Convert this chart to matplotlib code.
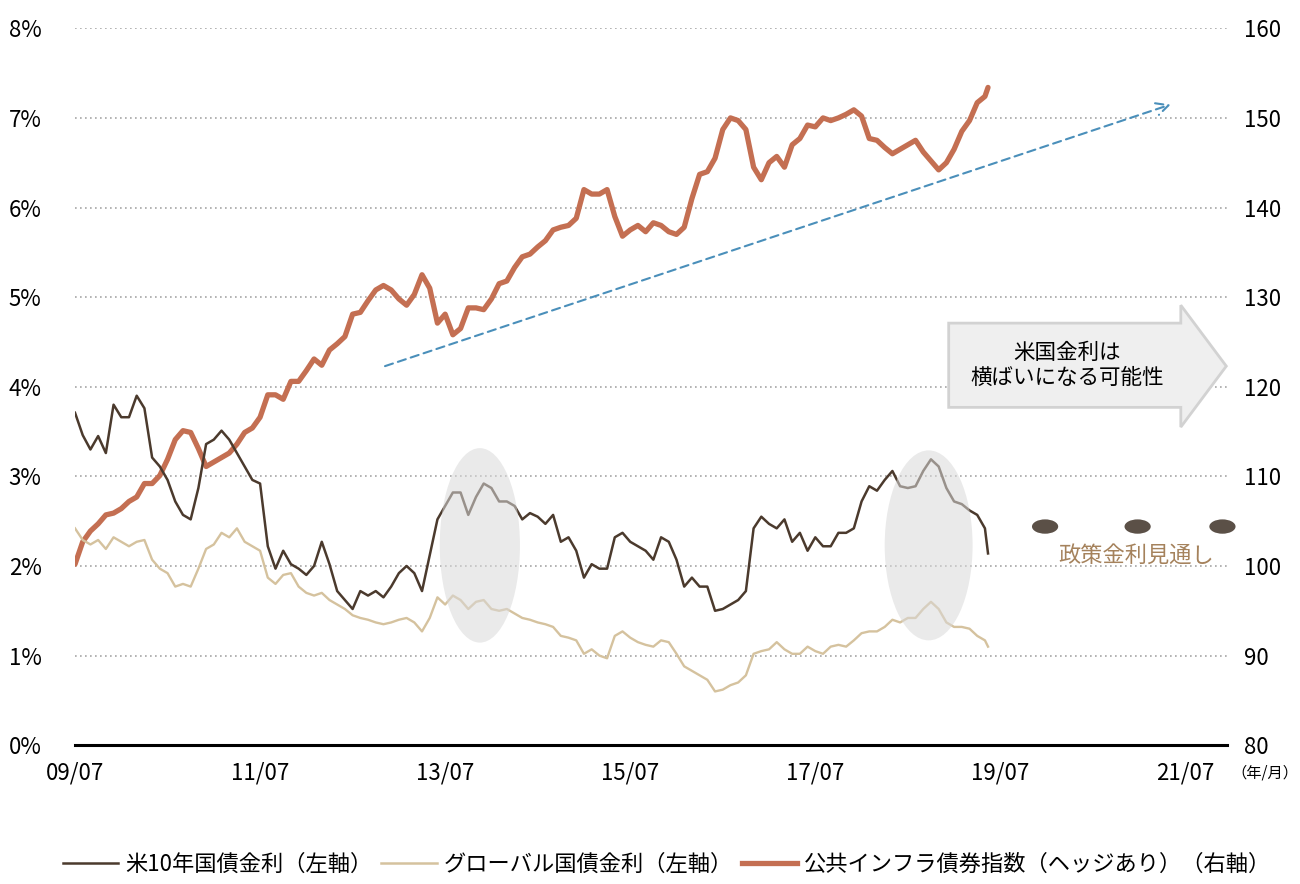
import numpy as np
import matplotlib
matplotlib.use('Agg')
from matplotlib import pyplot as plt
from matplotlib.patches import Ellipse, Polygon
from matplotlib.lines import Line2D

plt.rcParams['font.family'] = ['Noto Sans CJK JP', 'DejaVu Sans']

# months since 2009/07, monthly readings (last point is the final day shown)
months = list(range(119)) + [118.4]

us10y = [3.71, 3.46, 3.30, 3.45, 3.26, 3.80, 3.66, 3.66, 3.90, 3.76,
         3.21, 3.11, 2.96, 2.72, 2.57, 2.52, 2.87, 3.36, 3.41, 3.51,
         3.41, 3.26, 3.11, 2.96, 2.92, 2.22, 1.97, 2.17, 2.02, 1.97,
         1.90, 2.00, 2.27, 2.02, 1.72, 1.62, 1.52, 1.72, 1.67, 1.72,
         1.65, 1.77, 1.92, 2.00, 1.92, 1.72, 2.12, 2.52, 2.67, 2.82,
         2.82, 2.57, 2.77, 2.92, 2.87, 2.72, 2.72, 2.67, 2.52, 2.59,
         2.55, 2.47, 2.57, 2.27, 2.32, 2.17, 1.87, 2.02, 1.97, 1.97,
         2.32, 2.37, 2.27, 2.22, 2.17, 2.07, 2.32, 2.27, 2.07, 1.77,
         1.87, 1.77, 1.77, 1.50, 1.52, 1.57, 1.62, 1.72, 2.42, 2.55,
         2.47, 2.42, 2.52, 2.27, 2.37, 2.17, 2.32, 2.22, 2.22, 2.37,
         2.37, 2.42, 2.72, 2.89, 2.84, 2.96, 3.06, 2.89, 2.87, 2.89,
         3.06, 3.19, 3.11, 2.87, 2.72, 2.69, 2.62, 2.57, 2.42, 2.14]

global_yield = [2.42, 2.29, 2.24, 2.29, 2.19, 2.32, 2.27, 2.22, 2.27, 2.29,
                2.07, 1.97, 1.92, 1.77, 1.80, 1.77, 1.97, 2.19, 2.24, 2.37,
                2.32, 2.42, 2.27, 2.22, 2.17, 1.87, 1.80, 1.90, 1.92, 1.77,
                1.70, 1.67, 1.70, 1.62, 1.57, 1.52, 1.45, 1.42, 1.40, 1.37,
                1.35, 1.37, 1.40, 1.42, 1.37, 1.27, 1.42, 1.65, 1.57, 1.67,
                1.62, 1.52, 1.60, 1.62, 1.52, 1.50, 1.52, 1.47, 1.42, 1.40,
                1.37, 1.35, 1.32, 1.22, 1.20, 1.17, 1.02, 1.07, 1.00, 0.97,
                1.22, 1.27, 1.20, 1.15, 1.12, 1.10, 1.17, 1.15, 1.02, 0.88,
                0.83, 0.78, 0.73, 0.60, 0.62, 0.67, 0.70, 0.78, 1.02, 1.05,
                1.07, 1.15, 1.07, 1.02, 1.02, 1.10, 1.05, 1.02, 1.10, 1.12,
                1.10, 1.17, 1.25, 1.27, 1.27, 1.32, 1.40, 1.37, 1.42, 1.42,
                1.52, 1.60, 1.52, 1.37, 1.32, 1.32, 1.30, 1.22, 1.17, 1.10]

infra = [100.2, 102.7, 103.9, 104.7, 105.7, 105.9, 106.4, 107.2, 107.7, 109.2,
         109.2, 110.1, 111.9, 114.1, 115.1, 114.9, 113.1, 111.1, 111.6, 112.1,
         112.6, 113.6, 114.9, 115.4, 116.6, 119.1, 119.1, 118.6, 120.6, 120.6,
         121.8, 123.1, 122.4, 124.1, 124.8, 125.6, 128.1, 128.3, 129.6, 130.8,
         131.3, 130.8, 129.8, 129.1, 130.3, 132.5, 131.0, 127.1, 128.1, 125.8,
         126.5, 128.8, 128.8, 128.6, 129.8, 131.5, 131.8, 133.3, 134.5, 134.8,
         135.6, 136.3, 137.5, 137.8, 138.0, 138.8, 142.0, 141.5, 141.5, 142.0,
         139.0, 136.8, 137.5, 138.0, 137.3, 138.3, 138.0, 137.3, 137.0, 137.8,
         141.0, 143.7, 144.0, 145.5, 148.7, 150.0, 149.7, 148.7, 144.5, 143.1,
         145.0, 145.7, 144.5, 147.0, 147.7, 149.2, 149.0, 150.0, 149.7, 150.0,
         150.4, 150.9, 150.2, 147.7, 147.5, 146.7, 146.0, 146.5, 147.0, 147.5,
         146.2, 145.2, 144.2, 145.0, 146.5, 148.5, 149.7, 151.7, 152.4, 153.4]

tick_pos = [0, 24, 48, 72, 96, 120, 144]
tick_labels = ['09/07', '11/07', '13/07', '15/07', '17/07', '19/07', '21/07']

# policy rate outlook dots (month, %)
dot_x = [125.8, 137.8, 148.8]
dot_y = [2.44, 2.44, 2.44]

c_us = '#4b3a2d'
c_gl = '#d5c29e'
c_inf = '#c46f52'

fig = plt.figure(figsize=(13, 8.84), dpi=100)
ax = fig.add_axes([0.0577, 0.157, 0.8862, 0.811])
ax2 = ax.twinx()
ax.set_zorder(ax2.get_zorder() + 1)
ax.patch.set_visible(False)

ax2.plot(months, infra, color=c_inf, lw=3.8, solid_capstyle='round')
ax.plot(months, global_yield, color=c_gl, lw=1.7)
ax.plot(months, us10y, color=c_us, lw=1.8)

ax.set_xlim(0, 149.4)
ax.set_ylim(0, 8)
ax2.set_ylim(80, 160)

ax.set_yticks(range(9))
ax.set_yticklabels(['%d%%' % v for v in range(9)])
ax2.set_yticks(range(80, 161, 10))
ax.set_xticks(tick_pos)
ax.set_xticklabels(tick_labels)

for a in (ax, ax2):
    for s in ['top', 'left', 'right', 'bottom']:
        a.spines[s].set_visible(False)
    a.tick_params(length=0, labelsize=16)
ax.spines['bottom'].set_visible(True)
ax.spines['bottom'].set_linewidth(2.2)
ax.spines['bottom'].set_color('black')
ax.tick_params(axis='x', pad=12)
ax.tick_params(axis='y', pad=24)
ax2.tick_params(axis='y', pad=12)

ax2.grid(axis='y', color='#a6a6a6', linestyle=(0, (1, 2)), lw=1.2)
ax2.set_axisbelow(True)

# shaded ellipses over the yield lines
for cx, w, h in [(52.5, 10.4, 2.17), (110.7, 11.4, 2.12)]:
    ax.add_patch(Ellipse((cx, 2.23), w, h, facecolor='#d9d9d9', edgecolor='none',
                         alpha=0.55, zorder=5))

# trend arrow on the index
ax2.annotate('', xy=(142.1, 151.5), xytext=(40.2, 122.3),
             arrowprops=dict(arrowstyle='->', color='#4a8fba', lw=1.5,
                             linestyle=(0, (4, 2.5)), mutation_scale=22,
                             shrinkA=0, shrinkB=0))

# block arrow annotation
arrow_pts = [(113.3, 4.71), (143.4, 4.71), (143.4, 4.91), (149.3, 4.23),
             (143.4, 3.55), (143.4, 3.77), (113.3, 3.77)]
ax.add_patch(Polygon(arrow_pts, closed=True, facecolor='#efefef',
                     edgecolor='#d2d2d2', lw=2, clip_on=False, zorder=6))
ax.text(128.6, 4.24, '米国金利は\n横ばいになる可能性', ha='center', va='center',
        fontsize=15.5, linespacing=1.2, zorder=7)

# policy rate outlook
for x, y in zip(dot_x, dot_y):
    ax.add_patch(Ellipse((x, y), 3.4, 0.16, facecolor='#5b5047', edgecolor='none',
                         clip_on=False, zorder=6))
ax.text(137.6, 2.12, '政策金利見通し', ha='center', va='center', fontsize=16,
        color='#a5825c', zorder=7)

fig.text(0.973, 0.125, '（年/月）', ha='center', va='center', fontsize=11)

handles = [Line2D([], [], color=c_us, lw=1.8),
           Line2D([], [], color=c_gl, lw=1.8),
           Line2D([], [], color=c_inf, lw=3.8)]
labels = ['米10年国債金利（左軸）', 'グローバル国債金利（左軸）',
          '公共インフラ債券指数（ヘッジあり）（右軸）']
fig.legend(handles, labels, loc='center', bbox_to_anchor=(0.513, 0.022), ncol=3,
           frameon=False, fontsize=16, handlelength=2.5, handletextpad=0.3,
           columnspacing=0.4)

fig.savefig('out.png', dpi=100)
